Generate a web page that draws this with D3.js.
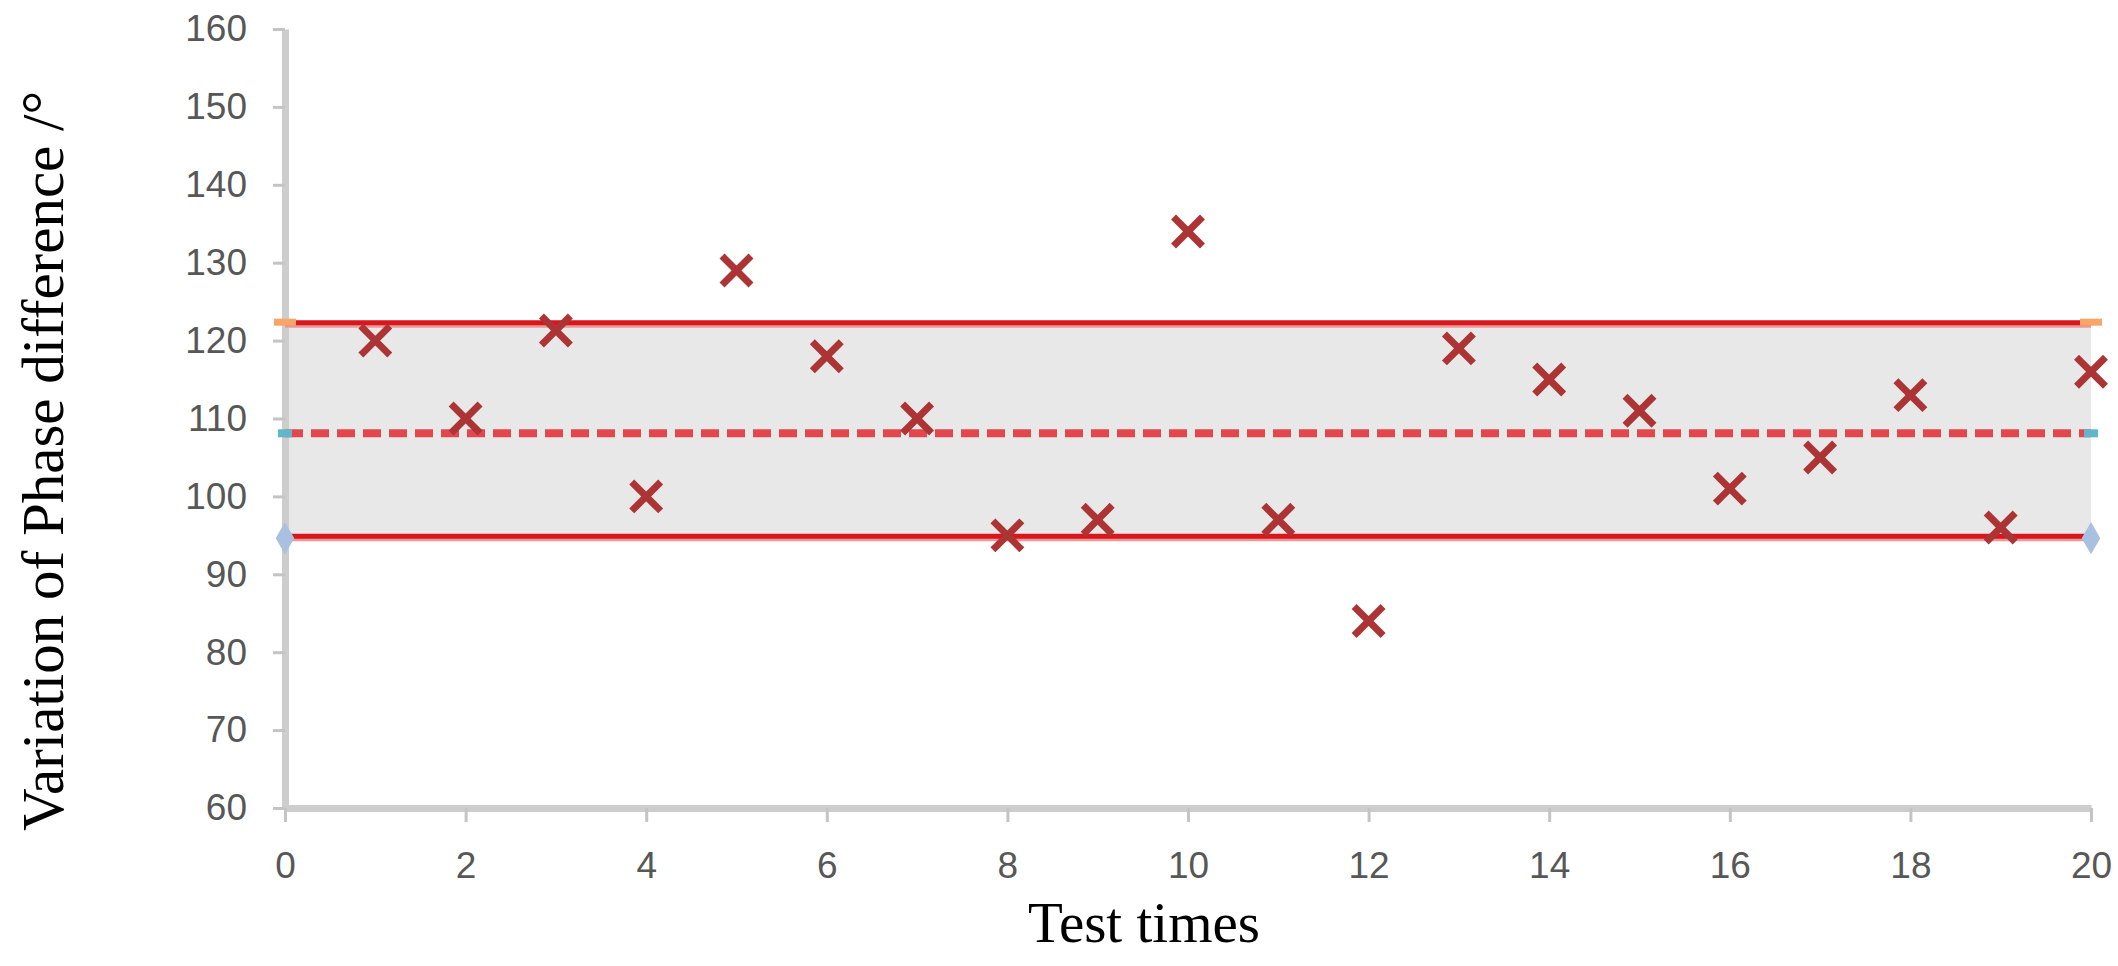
<!DOCTYPE html>
<html>
<head>
<meta charset="utf-8">
<script src="https://cdn.jsdelivr.net/npm/d3@7"></script>
<style>
  html, body { margin: 0; padding: 0; background: #ffffff; }
  svg { display: block; }
</style>
</head>
<body>
<svg id="chart" width="2118" height="966"></svg>
<script>
// ---- data ----
const testTimes = [1, 2, 3, 4, 5, 6, 7, 8, 9, 10, 11, 12, 13, 14, 15, 16, 17, 18, 19, 20];
const phaseDiff = [120, 110, 121.3, 100, 129, 118, 110, 95, 97, 134, 97, 84, 119, 115, 111, 101, 105, 113, 96, 116];
const limitX = [0, 20];
const upperLimit = [122.3, 122.3];
const meanLine = [108.1, 108.1];
const lowerLimit = [94.9, 94.9];
const xTicks = [0, 2, 4, 6, 8, 10, 12, 14, 16, 18, 20];
const yTicks = [60, 70, 80, 90, 100, 110, 120, 130, 140, 150, 160];
const xTitle = "Test times";
const yTitle = "Variation of Phase difference /°";

(function () {
// ---- layout ----
const svg = d3.select("#chart");
const mLeft = 285, mRight = 2091, mTop = 29, mBottom = 808;

const x = d3.scaleLinear().domain([0, 20]).range([mLeft, mRight]);
const y = d3.scaleLinear().domain([60, 160]).range([mBottom, mTop]);

// band between limits
const bandData = limitX.map((d, i) => ({ x: d, lo: lowerLimit[i], hi: upperLimit[i] }));
svg.append("path")
  .datum(bandData)
  .attr("fill", "#e8e8e8")
  .attr("d", d3.area().x(d => x(d.x)).y0(d => y(d.lo)).y1(d => y(d.hi)));

const tickFont = "'Liberation Sans', Arial, sans-serif";

// axes
const yAxis = svg.append("g")
  .attr("transform", `translate(${mLeft},0)`)
  .call(d3.axisLeft(y).tickValues(yTicks).tickSize(12).tickSizeOuter(0).tickPadding(26));
yAxis.select(".domain").attr("stroke", "#cdcdcd").attr("stroke-width", 7);
yAxis.selectAll(".tick line").attr("stroke", "#c4c4c4").attr("stroke-width", 3);
yAxis.selectAll(".tick text")
  .attr("fill", "#575757")
  .style("font-family", tickFont)
  .style("font-size", "37px");

const xAxis = svg.append("g")
  .attr("transform", `translate(0,${mBottom})`)
  .call(d3.axisBottom(x).tickValues(xTicks).tickSize(14).tickSizeOuter(0).tickPadding(30));
xAxis.select(".domain").attr("stroke", "#cdcdcd").attr("stroke-width", 7);
xAxis.selectAll(".tick line").attr("stroke", "#c4c4c4").attr("stroke-width", 3);
xAxis.selectAll(".tick text")
  .attr("fill", "#575757")
  .style("font-family", tickFont)
  .style("font-size", "37px");

// limit lines
const lineGen = d3.line().x(d => x(d.x)).y(d => y(d.v));
function lineData(vals) { return limitX.map((d, i) => ({ x: d, v: vals[i] })); }

[upperLimit, lowerLimit].forEach(vals => {
  svg.append("path").datum(lineData(vals))
    .attr("fill", "none").attr("stroke", "#ec9898").attr("stroke-width", 4)
    .attr("transform", "translate(0,3)")
    .attr("d", lineGen);
  svg.append("path").datum(lineData(vals))
    .attr("fill", "none").attr("stroke", "#d9161c").attr("stroke-width", 5)
    .attr("d", lineGen);
});

svg.append("path").datum(lineData(meanLine))
  .attr("fill", "none").attr("stroke", "#e2474d").attr("stroke-width", 8)
  .attr("stroke-dasharray", "18 8")
  .attr("d", lineGen);

// end markers of limit series
limitX.forEach((d, i) => {
  svg.append("rect")
    .attr("x", x(d) - 11).attr("y", y(upperLimit[i]) - 4)
    .attr("width", 22).attr("height", 7).attr("fill", "#f9a469");
  svg.append("rect")
    .attr("x", x(d) - 7).attr("y", y(meanLine[i]) - 4)
    .attr("width", 14).attr("height", 8).attr("fill", "#62b6c9");
  svg.append("path")
    .attr("transform", `translate(${x(d)},${y(lowerLimit[i]) + 2})`)
    .attr("d", d3.symbol(d3.symbolDiamond, 300)())
    .attr("fill", "#a9c0e0");
});

// data markers (x)
const xSym = "M-12,-12L12,12M-12,12L12,-12";
svg.append("g").selectAll("path")
  .data(testTimes.map((t, i) => ({ t, v: phaseDiff[i] })))
  .join("path")
  .attr("transform", d => `translate(${x(d.t)},${y(d.v)})`)
  .attr("d", xSym)
  .attr("fill", "none")
  .attr("stroke", "#ad3434")
  .attr("stroke-width", 7)
  .attr("stroke-linecap", "square");

// titles
svg.append("text")
  .attr("x", 1144).attr("y", 942)
  .attr("text-anchor", "middle")
  .style("font-family", "'Liberation Serif', 'Times New Roman', serif")
  .style("font-size", "57px")
  .attr("fill", "#000")
  .text(xTitle);

svg.append("text")
  .attr("transform", "translate(63,461) rotate(-90)")
  .attr("text-anchor", "middle")
  .style("font-family", "'Liberation Serif', 'Times New Roman', serif")
  .style("font-size", "59px")
  .attr("fill", "#000")
  .text(yTitle);
})();
</script>
</body>
</html>
